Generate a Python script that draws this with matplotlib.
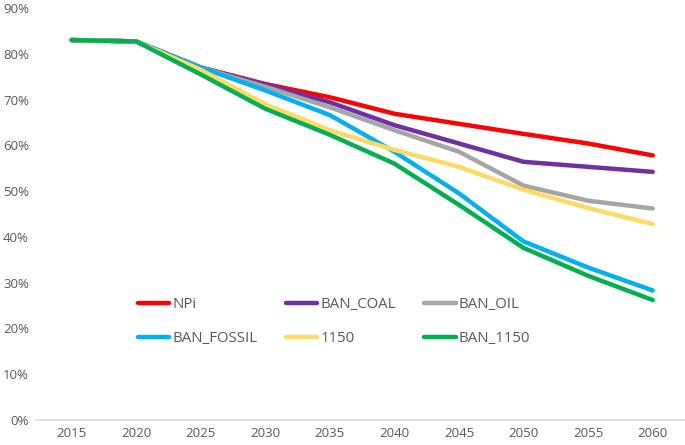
import matplotlib
matplotlib.use("Agg")
import matplotlib.pyplot as plt
import numpy as np

years = ["2015", "2020", "2025", "2030", "2035", "2040", "2045", "2050", "2055", "2060"]

npi        = [83.0, 82.7, 77.0, 73.4, 70.5, 66.9, 64.7, 62.5, 60.4, 57.8]
ban_coal   = [83.0, 82.7, 77.0, 73.3, 69.4, 64.4, 60.4, 56.4, 55.3, 54.2]
ban_oil    = [83.0, 82.7, 77.0, 72.8, 68.3, 63.3, 58.6, 51.2, 47.9, 46.2]
ban_fossil = [83.0, 82.7, 77.0, 72.0, 66.6, 58.6, 49.5, 39.0, 33.3, 28.3]
s1150      = [83.0, 82.7, 76.5, 69.0, 63.3, 59.0, 55.3, 50.3, 46.3, 42.8]
ban_1150   = [83.0, 82.7, 75.5, 68.0, 62.3, 56.0, 47.0, 37.6, 31.5, 26.2]

series = [
    ("NPi", npi, "#FF0000"),
    ("BAN_COAL", ban_coal, "#7030A0"),
    ("BAN_OIL", ban_oil, "#A5A5A5"),
    ("BAN_FOSSIL", ban_fossil, "#00B0F0"),
    ("1150", s1150, "#FFD966"),
    ("BAN_1150", ban_1150, "#00B050"),
]

plt.rcParams['font.family'] = ['Open Sans', 'DejaVu Sans']
txt = "#595959"

fig = plt.figure(figsize=(6.85, 4.45), dpi=100)
ax = fig.add_axes([36/685, 25/445, 649/685, 412/445])

x = np.arange(len(years))
handles = []
for name, vals, col in series:
    h, = ax.plot(x, np.array(vals) / 100, color=col, lw=3.2, label=name, solid_capstyle='round')
    handles.append(h)

ax.set_xlim(-0.55, len(years) - 0.5)
ax.set_ylim(0, 0.9)
yt = np.arange(0, 0.91, 0.1)
ax.set_yticks(yt)
ax.set_yticklabels([f"{int(round(v*100))}%" for v in yt])
ax.set_xticks(x)
ax.set_xticklabels(years)
ax.tick_params(axis='both', length=0, labelsize=9.5, colors=txt)
ax.tick_params(axis='y', pad=5)
ax.tick_params(axis='x', pad=5)
for s in ["top", "right", "left"]:
    ax.spines[s].set_visible(False)
ax.spines["bottom"].set_color("#D9D9D9")
ax.spines["bottom"].set_linewidth(1.2)

# legend fills column by column, so reorder to get row-major layout
order = [0, 3, 1, 4, 2, 5]
leg = ax.legend([handles[i] for i in order], [series[i][0] for i in order],
                ncol=3, frameon=False, loc="upper left",
                bbox_to_anchor=(124/685, 1 - 284/445), bbox_transform=fig.transFigure,
                handlelength=2.1, handletextpad=0.2, columnspacing=1.9,
                labelspacing=1.25, fontsize=10.8)
for t in leg.get_texts():
    t.set_color(txt)

fig.savefig("out.png", dpi=100)
